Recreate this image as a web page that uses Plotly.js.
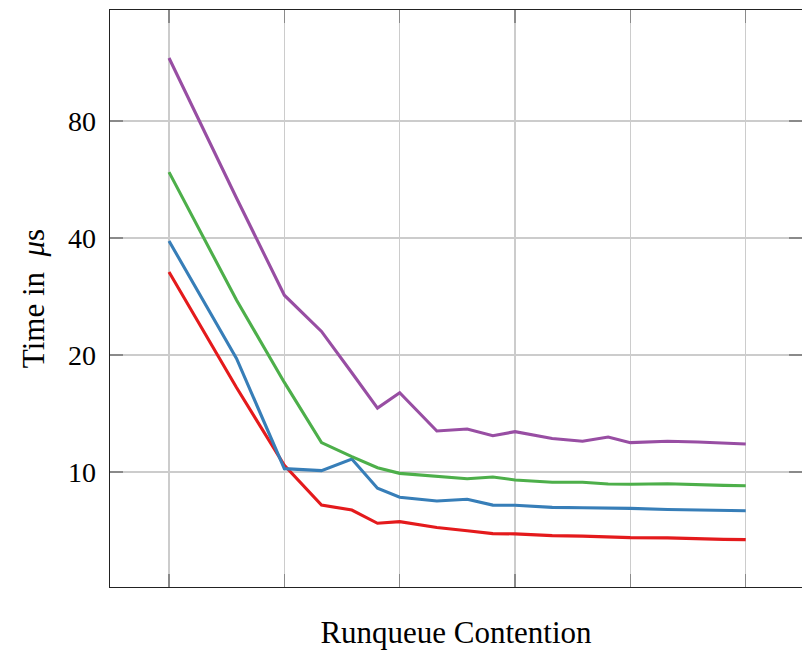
<!DOCTYPE html>
<html>
<head>
<meta charset="utf-8">
<script src="https://cdn.plot.ly/plotly-3.0.1.min.js"></script>
<style>html,body{margin:0;padding:0;background:#fff;}#chart{width:802px;height:650px;}</style>
</head>
<body>
<div id="chart"></div>
<script>
// Runqueue contention levels (x, log2-spaced axis; tick labels hidden in the original)
const contention = [2, 3, 4, 5, 6, 7, 8, 10, 12, 14, 16, 20, 24, 28, 32, 40, 48, 56, 64];

// Time in microseconds per series
const seriesRed    = [32.7, 16.5, 10.4, 8.22, 7.98, 7.38, 7.45, 7.20, 7.06, 6.94, 6.93, 6.86, 6.84, 6.80, 6.78, 6.77, 6.73, 6.71, 6.70];
const seriesBlue   = [39.3, 19.6, 10.2, 10.08, 10.8, 9.08, 8.61, 8.42, 8.51, 8.22, 8.21, 8.11, 8.09, 8.08, 8.06, 8.01, 7.98, 7.98, 7.95];
const seriesGreen  = [59.1, 27.7, 17.0, 11.9, 10.95, 10.26, 9.92, 9.73, 9.61, 9.71, 9.54, 9.41, 9.41, 9.31, 9.30, 9.33, 9.26, 9.24, 9.22];
const seriesPurple = [116.2, 50.7, 28.5, 23.0, 18.0, 14.6, 16.0, 12.75, 12.9, 12.4, 12.7, 12.2, 12.0, 12.3, 11.9, 12.0, 11.95, 11.85, 11.8];

const yTickVals = [10, 20, 40, 80];
const yTickText = ['10', '20', '40', '80'];
const xTickVals = [2, 4, 8, 16, 32, 64];

const colors = {red: '#e41a1c', blue: '#377eb8', green: '#4daf4a', purple: '#984ea3'};

function trace(y, color) {
  return {x: contention, y: y, type: 'scatter', mode: 'lines',
          line: {color: color, width: 3.1}, hoverinfo: 'skip'};
}

const data = [
  trace(seriesRed, colors.red),
  trace(seriesBlue, colors.blue),
  trace(seriesGreen, colors.green),
  trace(seriesPurple, colors.purple)
];

const font = {family: '"Liberation Serif", "DejaVu Serif", serif', color: '#000'};

const layout = {
  width: 802, height: 650,
  margin: {l: 110, r: 0, t: 10, b: 63},
  paper_bgcolor: '#fff', plot_bgcolor: '#fff',
  showlegend: false,
  font: Object.assign({size: 28}, font),
  xaxis: {
    type: 'log', range: [0.147, 1.953],
    tickvals: xTickVals, showticklabels: false,
    ticks: 'inside', ticklen: 13, tickcolor: '#8a8a8a', tickwidth: 1.3,
    showgrid: true, gridcolor: '#cccccc', gridwidth: 1.3,
    showline: true, linecolor: '#222', linewidth: 1.4, mirror: 'ticks',
    zeroline: false,
    title: {text: 'Runqueue Contention', font: Object.assign({size: 31}, font), standoff: 34}
  },
  yaxis: {
    type: 'log', range: [0.7041, 2.1887],
    tickvals: yTickVals, ticktext: yTickText,
    ticks: 'inside', ticklen: 13, tickcolor: '#8a8a8a', tickwidth: 1.3,
    showgrid: true, gridcolor: '#cccccc', gridwidth: 1.3,
    showline: true, linecolor: '#222', linewidth: 1.4, mirror: 'ticks',
    zeroline: false,
    ticklabelstandoff: 7,
    tickfont: Object.assign({size: 28}, font),
    title: {text: 'Time in  <i>μ</i>s', font: Object.assign({size: 31}, font), standoff: 14}
  }
};

Plotly.newPlot('chart', data, layout, {displayModeBar: false, staticPlot: true});
</script>
</body>
</html>
